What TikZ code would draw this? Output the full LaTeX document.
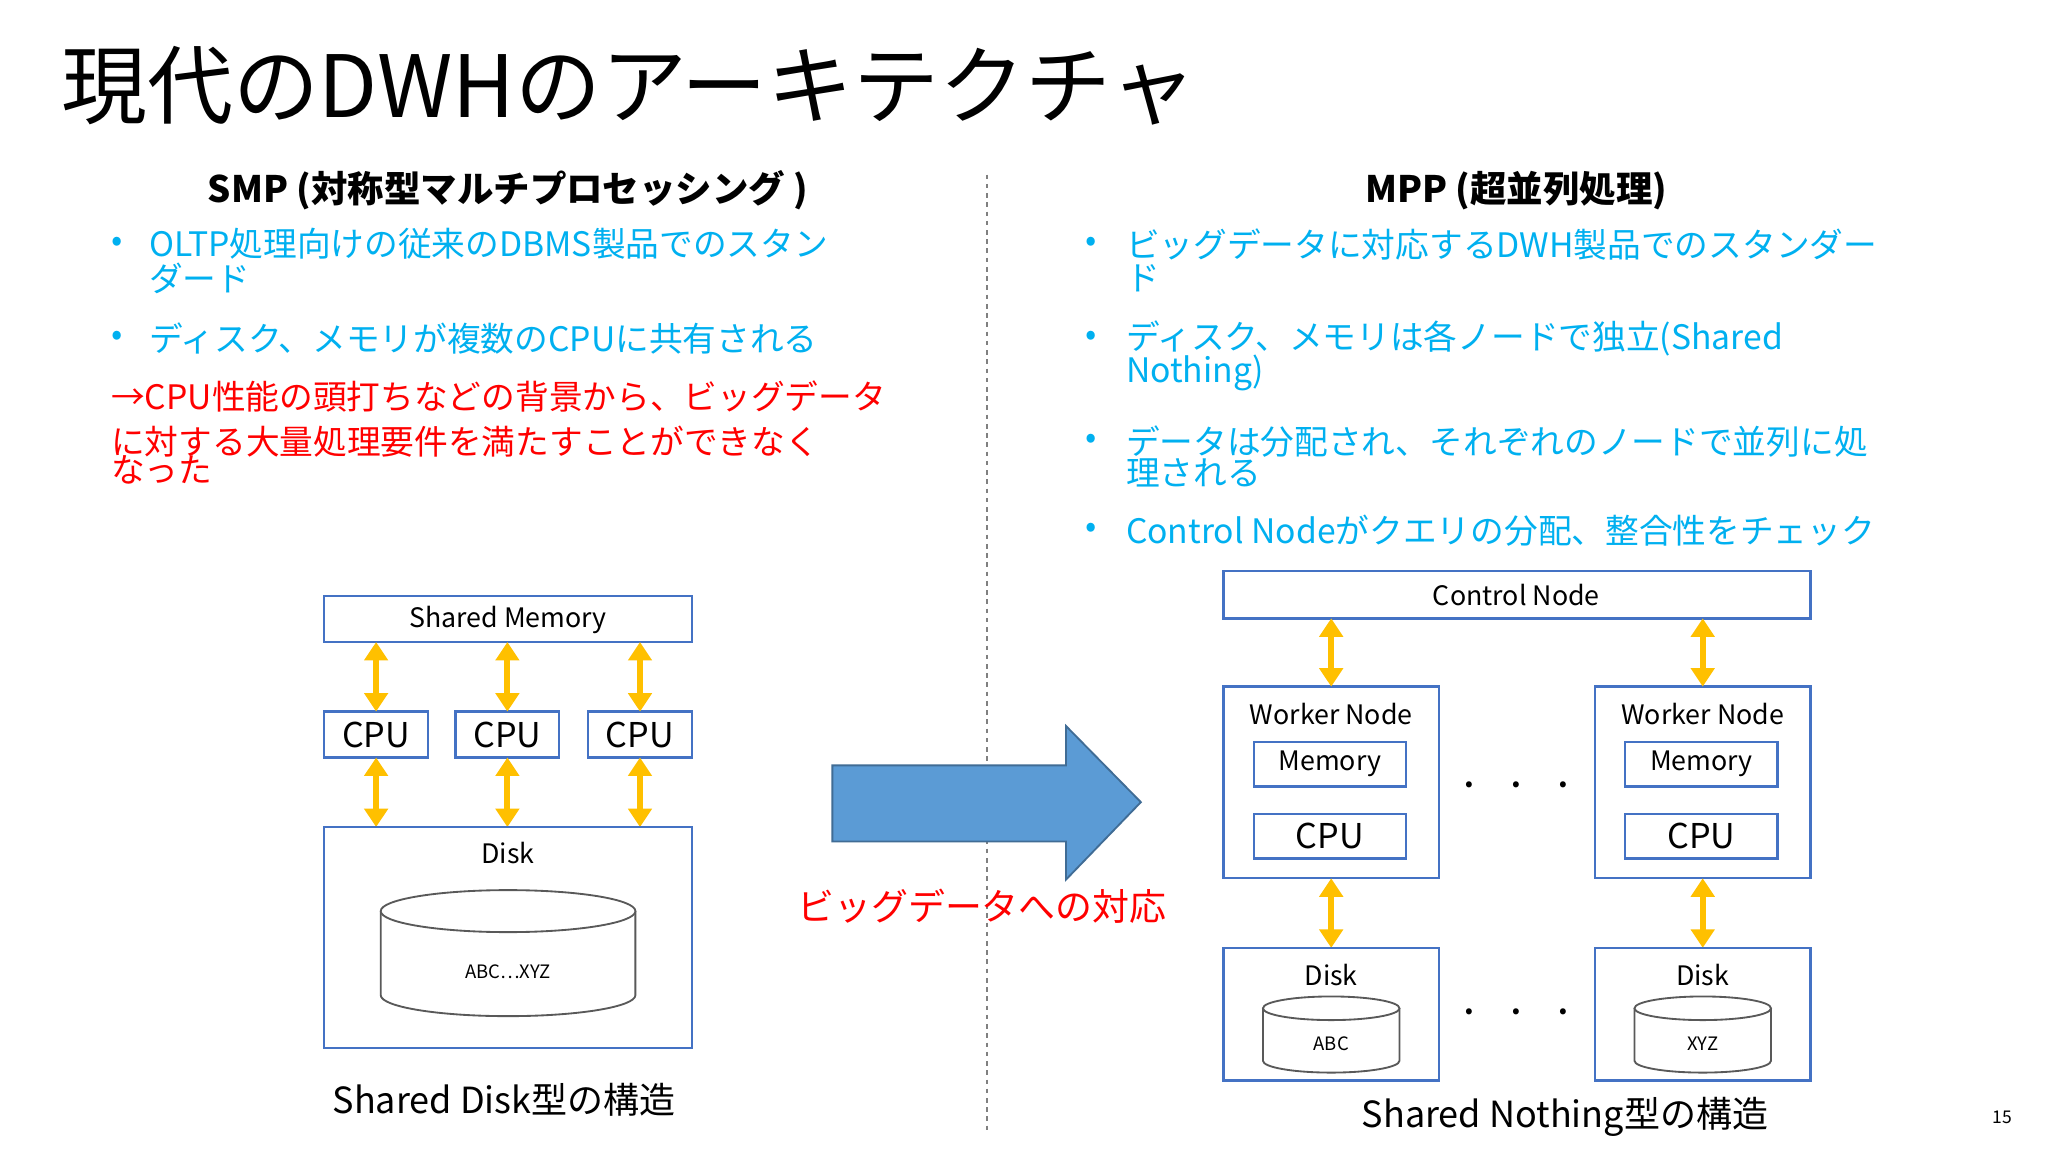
\documentclass[tikz,border=0pt]{standalone}
\usepackage{fontspec}
\setmainfont{Noto Sans CJK JP}
\usetikzlibrary{arrows.meta,shapes.geometric}
\definecolor{tblue}{HTML}{00B0F0}
\definecolor{bord}{HTML}{4472C4}
\definecolor{yel}{HTML}{FFC000}
\definecolor{barrow}{HTML}{5B9BD5}
\newcommand{\fs}[1]{\fontsize{#1}{#1}\selectfont}
\begin{document}
\begin{tikzpicture}[x=0.01cm,y=-0.01cm,
  box/.style={draw=bord,line width=0.5pt,fill=white},
  lbl/.style={inner sep=0,font=\fs{5.8pt}},
  big/.style={inner sep=0,font=\fs{7.4pt}},
  blt/.style={inner sep=0,anchor=west,text=tblue,font=\fs{7.3pt}},
  red/.style={inner sep=0,anchor=west,text=red,font=\fs{7.3pt}},
  dot/.style={inner sep=0,text=tblue,font=\fs{7.2pt}},
  ya/.style={draw=yel,line width=1.3pt,{Triangle[length=4pt,width=5pt]}-{Triangle[length=4pt,width=5pt]}},
  cyl/.style={draw=gray!70!black,line width=0.4pt,fill=white}]
\useasboundingbox (0,0) rectangle (1560,877.5);
\fill[white] (0,0) rectangle (1560,877.5);
\node[inner sep=0,anchor=west,font=\fs{18.6pt}] (title) at (46,65) {現代のDWHのアーキテクチャ};
\coordinate (dt) at (752,133); \coordinate (db) at (752,862);
\draw[gray,line width=0.4pt,dash pattern=on 1pt off 1pt] (dt) -- (db);
\node[inner sep=0,font=\bfseries\fs{7.9pt}] (h1) at (387,145) {SMP (対称型マルチプロセッシング )};
\node[inner sep=0,font=\bfseries\fs{7.9pt}] (h2) at (1155,145) {MPP (超並列処理)};
% left bullets
\node[dot] (b1) at (89,186) {•};
\node[blt] (t1) at (113,186) {OLTP処理向けの従来のDBMS製品でのスタン};
\node[blt] (t1b) at (113,212) {ダード};
\node[dot] (b2) at (89,258) {•};
\node[blt] (t2) at (113,258) {ディスク、メモリが複数のCPUに共有される};
\node[red] (r1) at (84,302) {→CPU性能の頭打ちなどの背景から、ビッグデータ};
\node[red] (r2) at (84,336) {に対する大量処理要件を満たすことができなく};
\node[red] (r3) at (84,358) {なった};
% right bullets
\node[dot] (c1) at (831,186) {•};
\node[blt] (u1) at (857,186) {ビッグデータに対応するDWH製品でのスタンダー};
\node[blt] (u1b) at (857,212) {ド};
\node[dot] (c2) at (831,258) {•};
\node[blt] (u2) at (857,258) {ディスク、メモリは各ノードで独立(Shared};
\node[blt] (u2b) at (857,284) {Nothing)};
\node[dot] (c3) at (831,336) {•};
\node[blt] (u3) at (857,336) {データは分配され、それぞれのノードで並列に処};
\node[blt] (u3b) at (857,360) {理される};
\node[dot] (c4) at (831,404) {•};
\node[blt] (u4) at (857,404) {Control Nodeがクエリの分配、整合性をチェック};
% left diagram
\draw[box] (247,454) rectangle (527,489); \node[lbl] (sm) at (387,472) {Shared Memory};
\foreach \i/\x in {1/286.5,2/386.5,3/487.5}{
  \draw[box] (\x-39.5,542) rectangle (\x+39.5,577);
  \node[big] (cpu\i) at (\x,560) {CPU};
  \coordinate (a\i) at (\x,489); \coordinate (b\i) at (\x,542);
  \coordinate (c\i) at (\x,577); \coordinate (d\i) at (\x,630);
  \draw[ya] (a\i) -- (b\i); \draw[ya] (c\i) -- (d\i);
}
\draw[box] (247,630) rectangle (527,798); \node[lbl] (dk) at (387,650) {Disk};
\draw[cyl] (290,694) -- (290,758) arc[start angle=180,end angle=0,x radius=97,y radius=16] -- (484,694);
\draw[cyl] (387,694) ellipse[x radius=97,y radius=16];
\node[inner sep=0,font=\fs{4pt}] (abcxyz) at (387,740) {ABC…XYZ};
\node[inner sep=0,font=\fs{7.8pt}] (cap1) at (384,838) {Shared Disk型の構造};
% big arrow
\draw[fill=barrow,draw=barrow!70!black,line width=0.4pt] (634,583) -- (812,583) -- (812,553) -- (869,611) -- (812,670) -- (812,641) -- (634,641) -- cycle;
\node[inner sep=0,text=red,font=\fs{8pt}] (bd) at (748,690) {ビッグデータへの対応};
% right diagram
\draw[box] (932,435) rectangle (1379,471); \node[lbl] (cn) at (1155,453) {Control Node};
\foreach \i/\x/\m in {1/1014/ABC,2/1297/XYZ}{
  \draw[box] (\x-82,523) rectangle (\x+82,669);
  \node[lbl] (wn\i) at (\x,544) {Worker Node};
  \draw[box] (\x-59,565) rectangle (\x+57,599); \node[lbl] (mem\i) at (\x-1,582) {Memory};
  \draw[box] (\x-59,620) rectangle (\x+57,654); \node[big] (wc\i) at (\x-1,637) {CPU};
  \coordinate (p\i) at (\x,471); \coordinate (q\i) at (\x,523);
  \coordinate (s\i) at (\x,669); \coordinate (t\i) at (\x,722);
  \draw[ya] (p\i) -- (q\i); \draw[ya] (s\i) -- (t\i);
  \draw[box] (\x-82,722) rectangle (\x+82,823); \node[lbl] (dd\i) at (\x,743) {Disk};
  \draw[cyl] (\x-52,768) -- (\x-52,808) arc[start angle=180,end angle=0,x radius=52,y radius=9] -- (\x+52,768);
  \draw[cyl] (\x,768) ellipse[x radius=52,y radius=9];
  \node[inner sep=0,font=\fs{4pt}] (lab\i) at (\x,795) {\m};
}
\node[inner sep=0,font=\bfseries\fs{6pt}] (dots1) at (1155,598) {.\hspace{8pt}.\hspace{8pt}.};
\node[inner sep=0,font=\bfseries\fs{6pt}] (dots2) at (1155,771) {.\hspace{8pt}.\hspace{8pt}.};
\node[inner sep=0,font=\fs{7.8pt}] (cap2) at (1192,851) {Shared Nothing型の構造};
\node[inner sep=0,font=\fs{3.8pt}] (pg) at (1525,851) {15};
\end{tikzpicture}
\end{document}
